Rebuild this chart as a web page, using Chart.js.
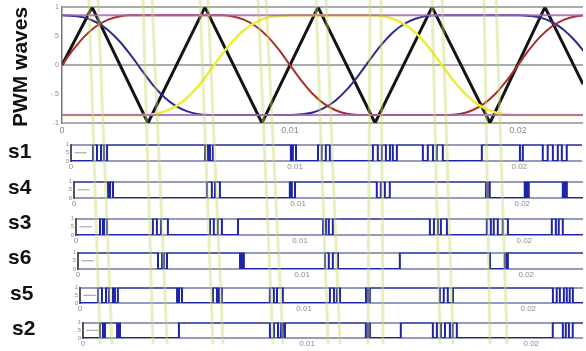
<!DOCTYPE html>
<html>
<head>
<meta charset="utf-8">
<script src="https://cdn.jsdelivr.net/npm/chart.js@4.4.0/dist/chart.umd.min.js"></script>
<style>
body { margin:0; background:#fff; }
#lienzo { position:relative; width:583px; height:351px; overflow:hidden; }
canvas { position:absolute; }
.etiqueta { position:absolute; font-family:"Liberation Sans", Arial, sans-serif; font-weight:bold; color:#111; white-space:nowrap; }
</style>
</head>
<body>
<div id="lienzo">
  <canvas id="graficaPWM" width="543" height="137" style="left:40px;top:0px"></canvas>
  <canvas id="guias" width="586" height="351" style="left:0px;top:0px"></canvas>
  <div class="etiqueta" style="left:20px;top:67px;font-size:21px;transform:translate(-50%,-50%) rotate(-90deg)">PWM waves</div>
  <div class="etiqueta" style="left:8px;top:139px;font-size:21px">s1</div>
  <div class="etiqueta" style="left:8px;top:175px;font-size:21px">s4</div>
  <div class="etiqueta" style="left:8px;top:210px;font-size:21px">s3</div>
  <div class="etiqueta" style="left:8px;top:245px;font-size:21px">s6</div>
  <div class="etiqueta" style="left:10px;top:281px;font-size:21px">s5</div>
  <div class="etiqueta" style="left:12px;top:316px;font-size:21px">s2</div>
</div>
<script>
Chart.defaults.font.family = '"Liberation Sans", Arial, sans-serif'

// ondas moduladoras (tiempo en s)
const tiempo = [0, 0.0005, 0.001, 0.0015, 0.002, 0.0025, 0.003, 0.0035, 0.004, 0.0045, 0.005, 0.0055, 0.006, 0.0065, 0.007, 0.0075, 0.008, 0.0085, 0.009, 0.0095, 0.01, 0.0105, 0.011, 0.0115, 0.012, 0.0125, 0.013, 0.0135, 0.014, 0.0145, 0.015, 0.0155, 0.016, 0.0165, 0.017, 0.0175, 0.018, 0.0185, 0.019, 0.0195, 0.02, 0.0205, 0.021, 0.0215, 0.022, 0.0225, 0.023]
const faseRoja = [0, 0.27, 0.50, 0.67, 0.78, 0.84, 0.86, 0.86, 0.86, 0.86, 0.86, 0.86, 0.86, 0.86, 0.86, 0.84, 0.78, 0.67, 0.50, 0.27, 0, -0.27, -0.50, -0.67, -0.78, -0.84, -0.86, -0.86, -0.86, -0.86, -0.86, -0.86, -0.86, -0.86, -0.86, -0.84, -0.78, -0.67, -0.50, -0.27, 0, 0.27, 0.50, 0.67, 0.78, 0.84, 0.86]
const faseAzul = [0.86, 0.85, 0.82, 0.74, 0.61, 0.42, 0.18, -0.09, -0.35, -0.56, -0.71, -0.80, -0.85, -0.86, -0.86, -0.86, -0.86, -0.86, -0.86, -0.86, -0.86, -0.85, -0.82, -0.74, -0.61, -0.42, -0.18, 0.09, 0.35, 0.56, 0.71, 0.80, 0.85, 0.86, 0.86, 0.86, 0.86, 0.86, 0.86, 0.86, 0.86, 0.85, 0.82, 0.74, 0.61, 0.42, 0.18]
const faseAmarilla = [-0.86, -0.86, -0.86, -0.86, -0.86, -0.86, -0.86, -0.86, -0.85, -0.80, -0.71, -0.56, -0.35, -0.09, 0.18, 0.42, 0.61, 0.74, 0.82, 0.85, 0.86, 0.86, 0.86, 0.86, 0.86, 0.86, 0.86, 0.86, 0.85, 0.80, 0.71, 0.56, 0.35, 0.09, -0.18, -0.42, -0.61, -0.74, -0.82, -0.85, -0.86, -0.86, -0.86, -0.86, -0.86, -0.86, -0.86]

// portadora triangular (vertices)
const portadoraT = [0, 0.00132, 0.00377, 0.00627, 0.00877, 0.01123, 0.01373, 0.01623, 0.01877, 0.02118, 0.02285]
const portadoraV = [0, 1, -1, 1, -1, 1, -1, 1, -1, 1, -0.33]

// niveles de saturacion (lineas moradas)
const saturacion = [0.86, -0.86]

const ticksArriba = [-1, -0.5, 0, 0.5, 1]
const etiquetasArriba = ['-1', '-.5', '0', '.5', '1']
const ticksX = [0, 0.01, 0.02]
const etiquetasX = ['0', '0.01', '0.02']
const ticksPulso = [0, 0.5, 1]
const etiquetasPulso = ['0', '.5', '1']

// pulsos de disparo: instante del cambio y nivel nuevo
const s1T = [0, 0.00098, 0.00116, 0.00134, 0.00147, 0.00161, 0.00598, 0.00611, 0.00620, 0.00633, 0.00981, 0.00990, 0.01004, 0.01102, 0.01119, 0.01137, 0.01155, 0.01347, 0.01369, 0.01387, 0.01405, 0.01423, 0.01436, 0.01454, 0.01570, 0.01592, 0.01615, 0.01632, 0.01659, 0.01833, 0.02003, 0.02016, 0.02105, 0.02127, 0.02150, 0.02172, 0.02190, 0.02212, 0.0228]
const s1V = [0, 1, 0, 1, 0, 1, 0, 1, 0, 1, 0, 1, 0, 1, 0, 1, 0, 1, 0, 1, 0, 1, 0, 1, 0, 1, 0, 1, 0, 1, 0, 1, 0, 1, 0, 1, 0, 1, 1]
const s4T = [0, 0.00152, 0.00161, 0.00174, 0.00593, 0.00615, 0.00629, 0.00651, 0.00963, 0.00972, 0.00986, 0.01351, 0.01369, 0.01387, 0.01409, 0.01838, 0.01846, 0.01855, 0.02011, 0.02020, 0.02029, 0.02181, 0.02190, 0.02199, 0.0228]
const s4V = [1, 0, 1, 0, 1, 0, 1, 0, 1, 0, 1, 0, 1, 0, 1, 0, 1, 0, 1, 0, 1, 0, 1, 0, 0]
const s3T = [0, 0.00107, 0.00120, 0.00125, 0.00138, 0.00343, 0.00361, 0.00379, 0.00410, 0.00598, 0.00615, 0.00633, 0.00651, 0.00723, 0.01102, 0.01115, 0.01128, 0.01146, 0.01579, 0.01597, 0.01615, 0.01628, 0.01655, 0.01833, 0.01851, 0.01864, 0.01882, 0.01904, 0.01927, 0.02123, 0.02141, 0.02154, 0.02172, 0.0228]
const s3V = [0, 1, 0, 1, 0, 1, 0, 1, 0, 1, 0, 1, 0, 1, 0, 1, 0, 1, 0, 1, 0, 1, 0, 1, 0, 1, 0, 1, 0, 1, 0, 1, 0, 0]
const s6T = [0, 0.00357, 0.00375, 0.00384, 0.00397, 0.00723, 0.00731, 0.00740, 0.01102, 0.01119, 0.01137, 0.01160, 0.01436, 0.01838, 0.01904, 0.01909, 0.01918, 0.0228]
const s6V = [1, 0, 1, 0, 1, 0, 1, 0, 1, 0, 1, 0, 1, 0, 1, 0, 1, 1]
const s5T = [0, 0.00080, 0.00098, 0.00116, 0.00129, 0.00147, 0.00156, 0.00169, 0.00433, 0.00442, 0.00455, 0.00593, 0.00611, 0.00620, 0.00633, 0.00847, 0.00865, 0.00879, 0.00905, 0.01115, 0.01133, 0.01146, 0.01160, 0.01276, 0.01284, 0.01293, 0.01606, 0.01623, 0.01641, 0.01664, 0.02110, 0.02127, 0.02141, 0.02159, 0.02172, 0.02185, 0.02199, 0.0228]
const s5V = [0, 1, 0, 1, 0, 1, 0, 1, 0, 1, 0, 1, 0, 1, 0, 1, 0, 1, 0, 1, 0, 1, 0, 1, 0, 1, 0, 1, 0, 1, 0, 1, 0, 1, 0, 1, 0, 0]
const s2T = [0, 0.00076, 0.00089, 0.00098, 0.00152, 0.00156, 0.00165, 0.00428, 0.00834, 0.00852, 0.00870, 0.00883, 0.00892, 0.00901, 0.01262, 0.01271, 0.01280, 0.01418, 0.01561, 0.01579, 0.01597, 0.01615, 0.01637, 0.01650, 0.01668, 0.02096, 0.02141, 0.02154, 0.02168, 0.02185, 0.0228]
const s2V = [0, 1, 0, 1, 0, 1, 0, 1, 0, 1, 0, 1, 0, 1, 0, 1, 0, 1, 0, 1, 0, 1, 0, 1, 0, 1, 0, 1, 0, 1, 1]

// trazo corto a media altura al inicio de cada pulso
const tramoMedioT = [0.00015, 0.0007]

// guias verde-amarillas: instante arriba y abajo
const guiaArriba = [0.00118, 0.00158, 0.00355, 0.00395, 0.00605, 0.00640, 0.00860, 0.00895, 0.01114, 0.01158, 0.01351, 0.01399, 0.01623, 0.01667, 0.01851, 0.01904]
const guiaAbajo = [0.00167, 0.00219, 0.00399, 0.00461, 0.00662, 0.00706, 0.00925, 0.00969, 0.01167, 0.01219, 0.01342, 0.01408, 0.01658, 0.01715, 0.01877, 0.01952]

const lienzo = document.getElementById('lienzo')
const guias = document.getElementById('guias')

const filas = [
  { nombre: 's1', x0: 71, arriba: 143, abajo: 161, t: s1T, v: s1V },
  { nombre: 's4', x0: 74, arriba: 180, abajo: 198, t: s4T, v: s4V },
  { nombre: 's3', x0: 76, arriba: 217, abajo: 235, t: s3T, v: s3V },
  { nombre: 's6', x0: 78, arriba: 251, abajo: 269, t: s6T, v: s6V },
  { nombre: 's5', x0: 80, arriba: 286, abajo: 303, t: s5T, v: s5V },
  { nombre: 's2', x0: 83, arriba: 321, abajo: 338, t: s2T, v: s2V }
]

const sinExtras = {
  legend: { display: false },
  tooltip: { enabled: false }
}

function puntos(xs, ys) {
  return xs.map((x, i) => ({ x: x, y: ys[i] }))
}

function linea(datos, color, ancho) {
  return {
    data: datos,
    borderColor: color,
    borderWidth: ancho,
    pointRadius: 0,
    fill: false
  }
}

graficaOndas()
for (let fila of filas) {
  graficaPulsos(fila)
}
graficaGuias()

function graficaOndas(){
  const $grafica = document.getElementById('graficaPWM')

  const moradaAlta = linea(puntos([0, 0.02285], [saturacion[0], saturacion[0]]), 'rgba(168,96,184,0.85)', 2)
  const moradaBaja = linea(puntos([0, 0.02285], [saturacion[1], saturacion[1]]), 'rgba(168,96,184,0.85)', 2)
  const amarilla = linea(puntos(tiempo, faseAmarilla), '#eeee3a', 2.5)
  const roja = linea(puntos(tiempo, faseRoja), '#a8302c', 2)
  const azul = linea(puntos(tiempo, faseAzul), '#2c2c92', 2)
  for (let d of [amarilla, roja, azul]) {
    d.cubicInterpolationMode = 'monotone'
  }
  const negra = linea(puntos(portadoraT, portadoraV), '#141414', 3)

  new Chart($grafica, {
    type: 'line',
    data: { datasets: [moradaAlta, moradaBaja, amarilla, roja, azul, negra] },
    options: {
      responsive: false,
      devicePixelRatio: 1,
      animation: false,
      layout: { padding: { top: 7, right: 0, left: 0, bottom: 0 } },
      plugins: sinExtras,
      scales: {
        x: {
          type: 'linear', min: 0, max: 0.02285,
          afterFit: s => { s.height = 14 },
          afterBuildTicks: s => { s.ticks = ticksX.map(v => ({ value: v })) },
          grid: { display: false, drawTicks: false },
          border: { display: false },
          ticks: { font: { size: 9 }, color: '#8a8a8a', padding: 2, maxRotation: 0, autoSkip: false, callback: (v, i) => etiquetasX[i] }
        },
        y: {
          min: -1, max: 1,
          afterFit: s => { s.width = 22 },
          afterBuildTicks: s => { s.ticks = ticksArriba.map(v => ({ value: v })) },
          grid: {
            color: c => (c.tick && Math.abs(c.tick.value) === 0.5) ? 'rgba(0,0,0,0)' : '#ababab',
            lineWidth: 2,
            drawTicks: false
          },
          border: { color: '#777', width: 1.5 },
          ticks: { font: { size: 7 }, color: '#8a8a8a', padding: 3, autoSkip: false, callback: (v, i) => etiquetasArriba[i] }
        }
      }
    }
  })
}

function graficaPulsos(fila){
  const canvas = document.createElement('canvas')
  canvas.width = 20 + 511
  canvas.height = (fila.abajo - fila.arriba) + 4 + 11
  canvas.style.left = (fila.x0 - 20) + 'px'
  canvas.style.top = (fila.arriba - 4) + 'px'
  lienzo.insertBefore(canvas, guias)

  const pulso = linea(puntos(fila.t, fila.v), '#1f24a6', 2)
  pulso.stepped = true
  const tramo = linea(puntos(tramoMedioT, [0.5, 0.5]), '#9a9a9a', 1)

  new Chart(canvas, {
    type: 'line',
    data: { datasets: [tramo, pulso] },
    options: {
      responsive: false,
      devicePixelRatio: 1,
      animation: false,
      layout: { padding: { top: 4, right: 0, left: 0, bottom: 0 } },
      plugins: sinExtras,
      scales: {
        x: {
          type: 'linear', min: 0, max: 0.0228,
          afterFit: s => { s.height = 11 },
          afterBuildTicks: s => { s.ticks = ticksX.map(v => ({ value: v })) },
          grid: { display: false, drawTicks: false },
          border: { display: false },
          ticks: { font: { size: 8 }, color: '#8a8a8a', padding: 1, maxRotation: 0, autoSkip: false, callback: (v, i) => etiquetasX[i] }
        },
        y: {
          min: 0, max: 1,
          afterFit: s => { s.width = 20 },
          afterBuildTicks: s => { s.ticks = ticksPulso.map(v => ({ value: v })) },
          grid: {
            color: c => (c.tick && c.tick.value === 0.5) ? 'rgba(0,0,0,0)' : '#959bbf',
            lineWidth: 2,
            drawTicks: false
          },
          border: { color: '#555', width: 2 },
          ticks: { font: { size: 6 }, color: '#8a8a8a', padding: 2, autoSkip: false, callback: (v, i) => etiquetasPulso[i] }
        }
      }
    }
  })
}

function graficaGuias(){
  let conjuntos = []
  for (let i = 0; i < guiaArriba.length; i++) {
    conjuntos[i] = linea(puntos([guiaArriba[i], guiaAbajo[i]], [1, 0.02]), 'rgba(200,218,100,0.42)', 3)
  }

  new Chart(guias, {
    type: 'line',
    data: { datasets: conjuntos },
    options: {
      responsive: false,
      devicePixelRatio: 1,
      animation: false,
      layout: { padding: 0 },
      plugins: sinExtras,
      scales: {
        x: { type: 'linear', display: false, min: -0.00272, max: 0.02298 },
        y: { display: false, min: 0, max: 1 }
      }
    }
  })
}
</script>
</body>
</html>
